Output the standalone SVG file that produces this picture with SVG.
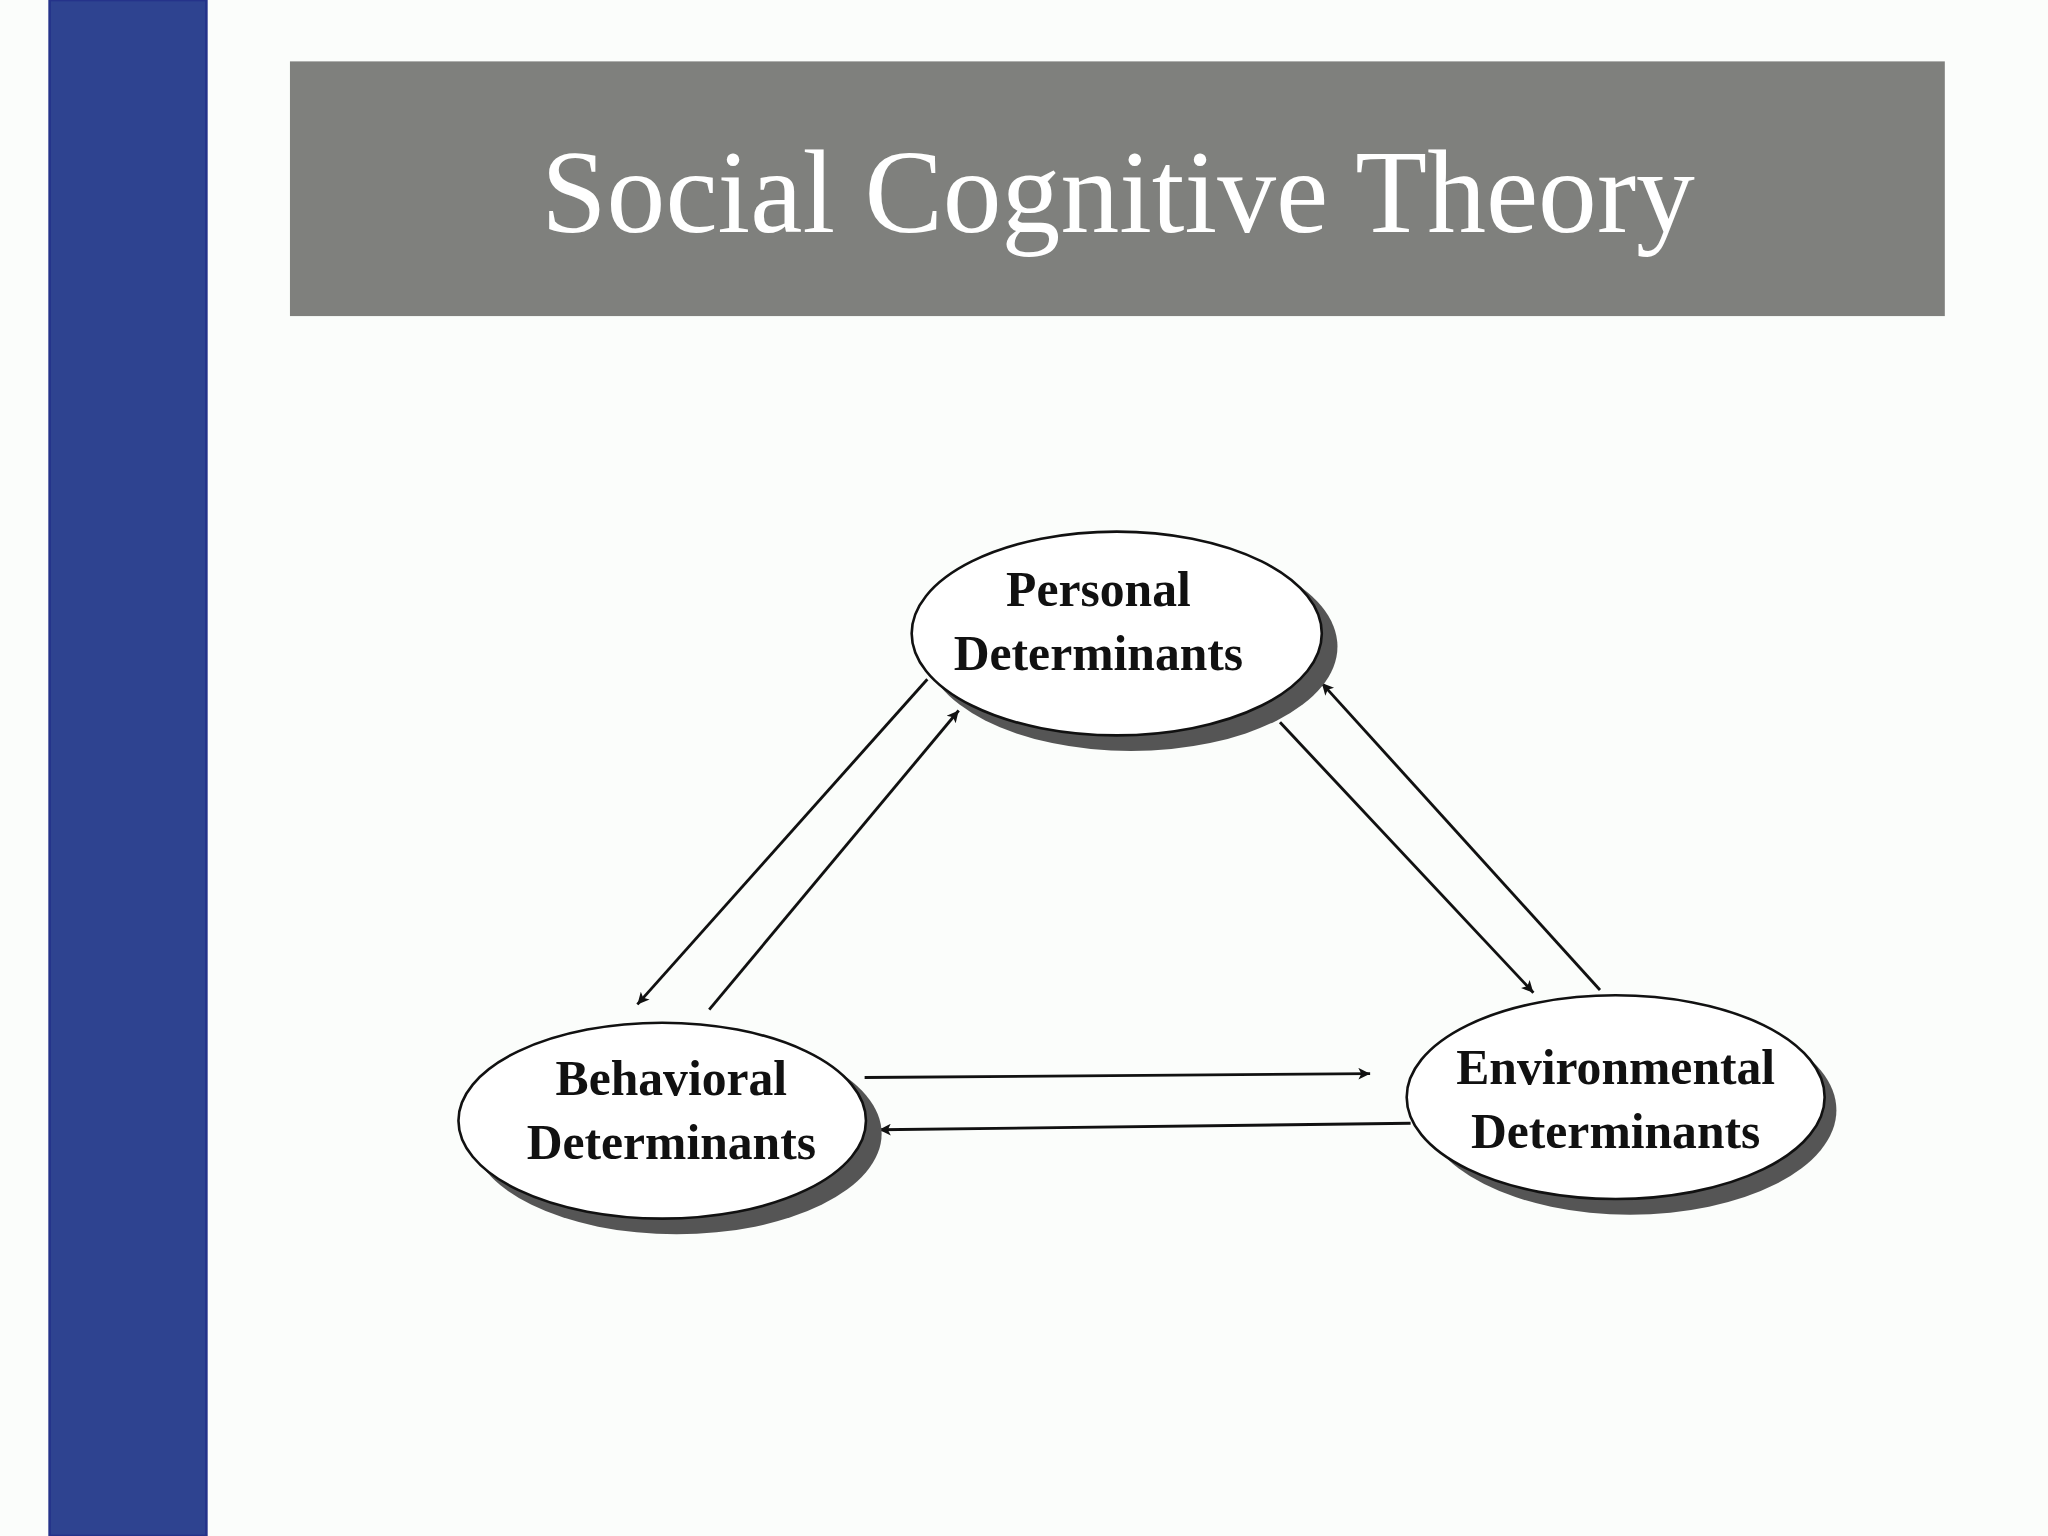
<svg xmlns="http://www.w3.org/2000/svg" width="2048" height="1536" viewBox="0 0 2048 1536">
<defs>
<style>
.node{fill:#ffffff;stroke:#111;stroke-width:2}
.sh{fill:#555}
.lbl{font-family:"Liberation Serif",serif;font-weight:bold;font-size:38px;fill:#111;text-anchor:middle}
.c{stroke:#111;stroke-width:2.2;fill:none;marker-end:url(#a)}
</style>
<marker id="a" viewBox="0 0 10 10" refX="10" refY="5" markerWidth="12" markerHeight="9" markerUnits="userSpaceOnUse" orient="auto"><path d="M0,0L10,5L0,10L2.5,5Z" fill="#111"/></marker>
</defs>
<g transform="scale(1.30612)">
<rect width="1568" height="1176" fill="#fbfdfb"/>
<rect x="38" y="0" width="120" height="1176" fill="#2e4390" stroke="#25338a" stroke-width="2"/>
<rect x="222" y="47" width="1267" height="195" fill="#7f807d"/>
<text x="856" y="178" font-family="'Liberation Serif',serif" font-size="90" fill="#fff" text-anchor="middle">Social Cognitive Theory</text>
<g id="connectors">
<line class="c" x1="710" y1="520" x2="488" y2="769"/>
<line class="c" x1="543" y1="773" x2="734" y2="544"/>
<line class="c" x1="980" y1="553" x2="1174" y2="760"/>
<line class="c" x1="1225" y1="758" x2="1012" y2="523"/>
<line class="c" x1="662" y1="825" x2="1049" y2="822"/>
<line class="c" x1="1080" y1="860" x2="673" y2="865"/>
</g>
<g id="personal">
<ellipse class="sh" cx="866" cy="495" rx="158" ry="80"/>
<ellipse class="node" cx="855" cy="485" rx="157" ry="78"/>
<text class="lbl" x="841" y="464">Personal</text>
<text class="lbl" x="841" y="513">Determinants</text>
</g>
<g id="behavioral">
<ellipse class="sh" cx="518" cy="868" rx="157" ry="77"/>
<ellipse class="node" cx="507" cy="858" rx="156" ry="75"/>
<text class="lbl" x="514" y="838">Behavioral</text>
<text class="lbl" x="514" y="887">Determinants</text>
</g>
<g id="environmental">
<ellipse class="sh" cx="1248" cy="850" rx="158" ry="80"/>
<ellipse class="node" cx="1237" cy="840" rx="160" ry="78"/>
<text class="lbl" x="1237" y="830">Environmental</text>
<text class="lbl" x="1237" y="879">Determinants</text>
</g>
</g>
</svg>
